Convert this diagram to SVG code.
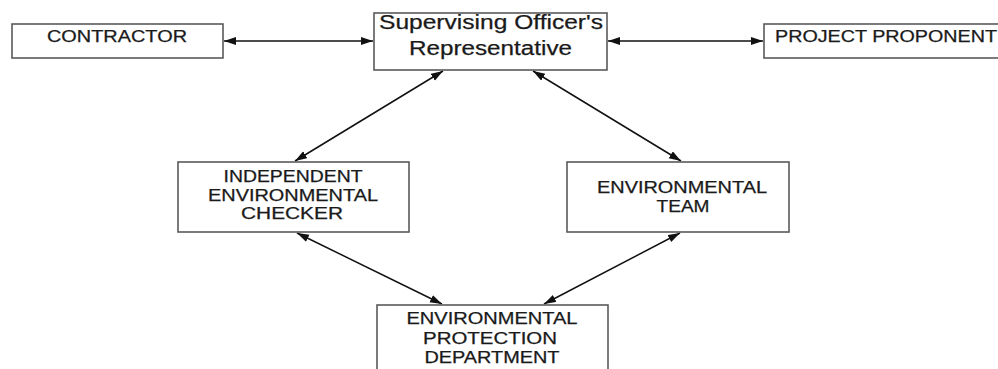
<svg xmlns="http://www.w3.org/2000/svg" width="998" height="369" viewBox="0 0 998 369">
<style>
.box{fill:#fff;stroke:#5a5a5a;stroke-width:1.6}
.t{font-family:"Liberation Sans",Arial,sans-serif;font-size:16px;fill:#1a1a1a;stroke:#1a1a1a;stroke-width:0.25;text-anchor:middle}
.t2{font-family:"Liberation Sans",Arial,sans-serif;font-size:20px;fill:#1a1a1a;stroke:#1a1a1a;stroke-width:0.25;text-anchor:middle}
.c{stroke:#111;stroke-width:1.5;fill:none;marker-start:url(#ah);marker-end:url(#ah)}
</style>
<defs>
<marker id="ah" markerUnits="userSpaceOnUse" markerWidth="14" markerHeight="9" refX="12" refY="4" orient="auto-start-reverse">
<path d="M0,0 L12,4 L0,8 z" fill="#111"/>
</marker>
</defs>
<rect width="998" height="369" fill="#fff"/>
<g id="connectors">
<line class="c" x1="224" y1="41" x2="373" y2="41"/>
<line class="c" x1="608" y1="41" x2="763" y2="41"/>
<line class="c" x1="443" y1="71" x2="295" y2="161"/>
<line class="c" x1="533" y1="71" x2="681" y2="161"/>
<line class="c" x1="297" y1="233" x2="442" y2="304"/>
<line class="c" x1="680" y1="233" x2="544" y2="304"/>
</g>
<g id="contractor">
<rect class="box" x="12" y="24" width="211" height="34"/>
<text class="t" x="117" y="42" textLength="140" lengthAdjust="spacingAndGlyphs">CONTRACTOR</text>
</g>
<g id="sor">
<rect class="box" x="374" y="13" width="233" height="57"/>
<text class="t2" x="491" y="29" textLength="224" lengthAdjust="spacingAndGlyphs">Supervising Officer's</text>
<text class="t2" x="490.5" y="55" textLength="163" lengthAdjust="spacingAndGlyphs">Representative</text>
</g>
<g id="proponent">
<rect class="box" x="764" y="24" width="250" height="34"/>
<text class="t" x="886" y="42" textLength="222" lengthAdjust="spacingAndGlyphs">PROJECT PROPONENT</text>
</g>
<g id="iec">
<rect class="box" x="178" y="162" width="231" height="70"/>
<text class="t" x="293" y="182" textLength="139" lengthAdjust="spacingAndGlyphs">INDEPENDENT</text>
<text class="t" x="293" y="201" textLength="170" lengthAdjust="spacingAndGlyphs">ENVIRONMENTAL</text>
<text class="t" x="292" y="219" textLength="102" lengthAdjust="spacingAndGlyphs">CHECKER</text>
</g>
<g id="et">
<rect class="box" x="567" y="162" width="222" height="70"/>
<text class="t" x="682" y="193" textLength="170" lengthAdjust="spacingAndGlyphs">ENVIRONMENTAL</text>
<text class="t" x="683" y="212" textLength="53" lengthAdjust="spacingAndGlyphs">TEAM</text>
</g>
<g id="epd">
<rect class="box" x="377" y="305" width="231" height="75"/>
<text class="t" x="492" y="324" textLength="171" lengthAdjust="spacingAndGlyphs">ENVIRONMENTAL</text>
<text class="t" x="490" y="344" textLength="134" lengthAdjust="spacingAndGlyphs">PROTECTION</text>
<text class="t" x="492" y="363" textLength="135" lengthAdjust="spacingAndGlyphs">DEPARTMENT</text>
</g>
</svg>
